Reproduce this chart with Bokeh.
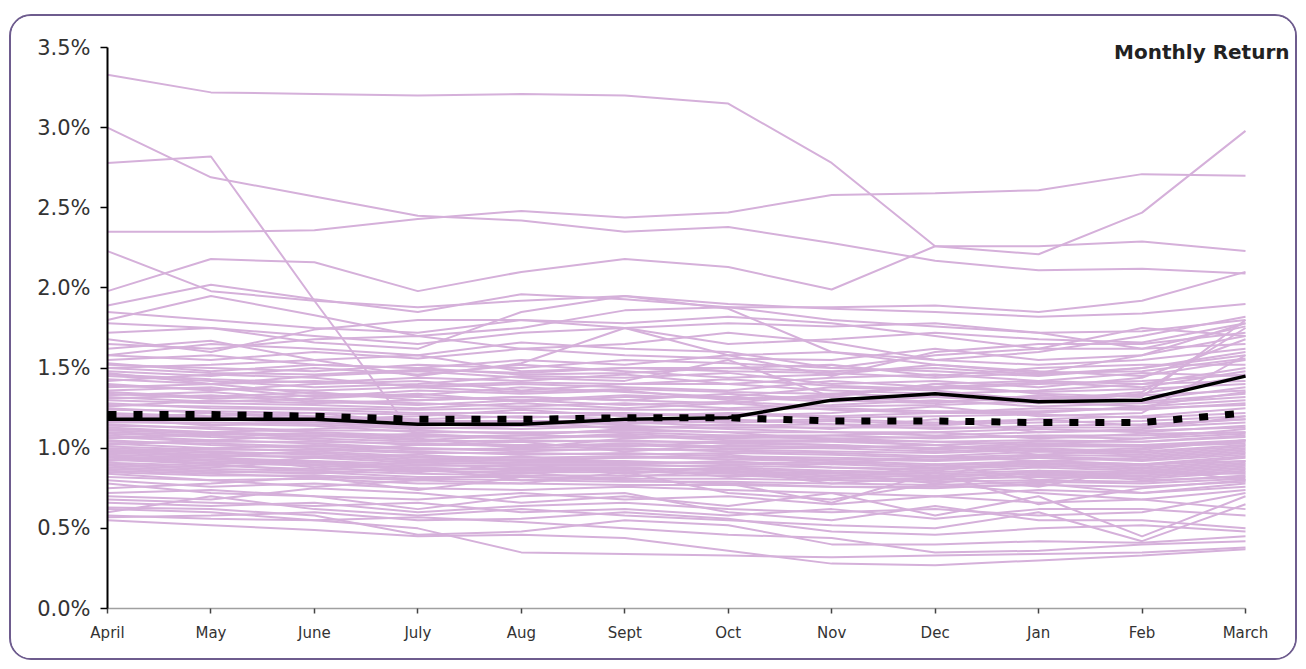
from bokeh.plotting import figure
from bokeh.models import FixedTicker, Range1d, Label, PrintfTickFormatter
from bokeh.embed import file_html
from bokeh.resources import INLINE

months = ["April", "May", "June", "July", "Aug", "Sept", "Oct", "Nov", "Dec", "Jan", "Feb", "March"]
y_ticks = [0.0, 0.5, 1.0, 1.5, 2.0, 2.5, 3.0, 3.5]

# Individual fund monthly returns (%), one list per fund
upper_funds = [
    [3.33, 3.22, 3.21, 3.20, 3.21, 3.20, 3.15, 2.78, 2.26, 2.21, 2.47, 2.98],
    [3.00, 2.69, 2.57, 2.45, 2.42, 2.35, 2.38, 2.28, 2.17, 2.11, 2.12, 2.09],
    [2.78, 2.82, 1.92, 1.05, 1.08, 1.12, 1.10, 1.05, 1.02, 0.98, 1.00, 1.05],
    [2.35, 2.35, 2.36, 2.43, 2.48, 2.44, 2.47, 2.58, 2.59, 2.61, 2.71, 2.70],
    [2.23, 1.98, 1.92, 1.88, 1.92, 1.95, 1.90, 1.87, 1.85, 1.82, 1.84, 1.90],
    [1.98, 2.18, 2.16, 1.98, 2.10, 2.18, 2.13, 1.99, 2.26, 2.26, 2.29, 2.23],
    [1.89, 2.02, 1.93, 1.85, 1.96, 1.93, 1.88, 1.80, 1.76, 1.72, 1.73, 1.80],
    [1.80, 1.95, 1.83, 1.70, 1.75, 1.86, 1.88, 1.88, 1.89, 1.85, 1.92, 2.10],
    [1.72, 1.75, 1.66, 1.62, 1.85, 1.95, 1.87, 1.60, 1.52, 1.47, 1.58, 1.78],
    [1.68, 1.60, 1.74, 1.80, 1.80, 1.75, 1.78, 1.76, 1.78, 1.72, 1.62, 1.76],
    [1.62, 1.67, 1.55, 1.45, 1.53, 1.75, 1.58, 1.45, 1.60, 1.65, 1.65, 1.72],
    [1.78, 1.75, 1.70, 1.65, 1.72, 1.75, 1.65, 1.68, 1.72, 1.68, 1.66, 1.78],
    [1.65, 1.62, 1.68, 1.70, 1.62, 1.65, 1.72, 1.66, 1.55, 1.60, 1.70, 1.82],
    [1.58, 1.65, 1.62, 1.58, 1.66, 1.62, 1.60, 1.50, 1.58, 1.62, 1.62, 1.65],
    [1.85, 1.80, 1.75, 1.72, 1.80, 1.78, 1.82, 1.78, 1.70, 1.62, 1.75, 1.70],
]
middle_funds = [
    [1.52, 1.50, 1.48, 1.52, 1.50, 1.55, 1.53, 1.50, 1.48, 1.45, 1.50, 1.60],
    [1.48, 1.45, 1.50, 1.46, 1.52, 1.48, 1.44, 1.46, 1.52, 1.48, 1.45, 1.55],
    [1.45, 1.42, 1.38, 1.40, 1.45, 1.44, 1.47, 1.40, 1.42, 1.38, 1.44, 1.68],
    [1.42, 1.46, 1.44, 1.38, 1.40, 1.38, 1.36, 1.42, 1.38, 1.41, 1.38, 1.48],
    [1.40, 1.36, 1.40, 1.42, 1.36, 1.40, 1.40, 1.36, 1.34, 1.36, 1.40, 1.42],
    [1.38, 1.40, 1.34, 1.33, 1.38, 1.35, 1.32, 1.38, 1.36, 1.30, 1.35, 1.75],
    [1.35, 1.32, 1.35, 1.30, 1.32, 1.30, 1.34, 1.30, 1.28, 1.33, 1.30, 1.38],
    [1.33, 1.35, 1.30, 1.28, 1.26, 1.28, 1.25, 1.27, 1.30, 1.26, 1.28, 1.32],
    [1.30, 1.28, 1.27, 1.25, 1.28, 1.25, 1.28, 1.24, 1.22, 1.25, 1.24, 1.28],
    [1.28, 1.25, 1.24, 1.22, 1.22, 1.22, 1.20, 1.22, 1.26, 1.20, 1.22, 1.58],
    [1.25, 1.22, 1.20, 1.18, 1.20, 1.18, 1.17, 1.18, 1.16, 1.18, 1.20, 1.25],
    [1.22, 1.20, 1.22, 1.16, 1.15, 1.16, 1.14, 1.15, 1.12, 1.14, 1.15, 1.18],
    [1.20, 1.18, 1.16, 1.13, 1.12, 1.14, 1.12, 1.10, 1.10, 1.12, 1.10, 1.14],
    [1.17, 1.15, 1.14, 1.10, 1.10, 1.10, 1.08, 1.08, 1.06, 1.08, 1.08, 1.10],
    [1.15, 1.12, 1.10, 1.08, 1.06, 1.08, 1.05, 1.05, 1.04, 1.05, 1.04, 1.08],
    [1.12, 1.10, 1.08, 1.05, 1.04, 1.05, 1.03, 1.02, 1.00, 1.03, 1.02, 1.05],
    [1.10, 1.08, 1.05, 1.02, 1.02, 1.02, 1.00, 1.00, 0.98, 1.00, 0.98, 1.02],
    [1.08, 1.05, 1.03, 1.00, 0.98, 1.00, 0.98, 0.97, 0.95, 0.98, 0.96, 1.00],
    [1.05, 1.02, 1.00, 0.98, 0.96, 0.97, 0.95, 0.94, 0.93, 0.95, 0.93, 0.97],
    [1.03, 1.00, 0.98, 0.95, 0.94, 0.95, 0.93, 0.92, 0.90, 0.92, 0.90, 0.95],
    [1.00, 0.98, 0.96, 0.93, 0.92, 0.92, 0.90, 0.90, 0.88, 0.90, 0.88, 0.92],
    [0.98, 0.96, 0.94, 0.91, 0.90, 0.90, 0.88, 0.86, 0.85, 0.88, 0.86, 0.90],
    [0.96, 0.94, 0.92, 0.90, 0.88, 0.88, 0.86, 0.84, 0.83, 0.85, 0.84, 0.88],
    [0.94, 0.92, 0.90, 0.88, 0.86, 0.86, 0.84, 0.82, 0.80, 0.83, 0.82, 0.86],
    [0.92, 0.95, 0.88, 0.85, 0.90, 0.84, 0.88, 0.80, 0.90, 0.80, 0.85, 0.84],
    [0.90, 0.88, 0.92, 0.86, 0.84, 0.88, 0.82, 0.85, 0.78, 0.86, 0.80, 0.82],
    [0.88, 0.86, 0.84, 0.88, 0.80, 0.82, 0.86, 0.78, 0.82, 0.76, 0.88, 0.80],
    [0.86, 0.84, 0.82, 0.80, 0.85, 0.80, 0.78, 0.76, 0.75, 0.78, 0.72, 0.78],
    [1.58, 1.55, 1.60, 1.56, 1.62, 1.58, 1.56, 1.55, 1.62, 1.55, 1.58, 1.70],
    [1.55, 1.58, 1.52, 1.50, 1.55, 1.52, 1.58, 1.60, 1.55, 1.52, 1.55, 1.62],
    [1.50, 1.52, 1.55, 1.58, 1.48, 1.50, 1.50, 1.52, 1.45, 1.50, 1.52, 1.52],
    [1.47, 1.40, 1.45, 1.48, 1.44, 1.42, 1.55, 1.32, 1.40, 1.42, 1.47, 1.45],
    [1.36, 1.38, 1.32, 1.36, 1.34, 1.36, 1.30, 1.33, 1.40, 1.34, 1.32, 1.80],
    [1.26, 1.30, 1.28, 1.30, 1.32, 1.30, 1.28, 1.34, 1.32, 1.28, 1.34, 1.45],
    [1.18, 1.22, 1.18, 1.20, 1.24, 1.20, 1.22, 1.20, 1.22, 1.22, 1.26, 1.35],
    [1.13, 1.10, 1.12, 1.15, 1.17, 1.12, 1.15, 1.12, 1.18, 1.10, 1.12, 1.20],
    [1.02, 1.05, 1.08, 1.06, 1.00, 1.06, 1.08, 1.06, 1.04, 1.02, 1.06, 1.12],
    [0.99, 0.95, 0.98, 1.02, 1.04, 0.98, 1.02, 1.00, 1.02, 0.96, 0.99, 1.05],
    [0.95, 0.90, 0.94, 0.96, 0.92, 0.94, 0.96, 0.90, 0.95, 0.92, 0.94, 0.98],
    [0.93, 0.90, 0.86, 0.92, 0.95, 0.90, 0.92, 0.88, 0.86, 0.92, 0.90, 0.92],
    [1.46, 1.43, 1.41, 1.44, 1.42, 1.46, 1.40, 1.44, 1.46, 1.42, 1.40, 1.50],
    [1.43, 1.40, 1.42, 1.39, 1.41, 1.40, 1.43, 1.39, 1.37, 1.40, 1.42, 1.46],
    [1.39, 1.37, 1.36, 1.38, 1.35, 1.37, 1.35, 1.34, 1.38, 1.35, 1.37, 1.40],
    [1.34, 1.31, 1.33, 1.32, 1.30, 1.33, 1.31, 1.32, 1.29, 1.31, 1.33, 1.36],
    [1.31, 1.33, 1.29, 1.27, 1.30, 1.27, 1.29, 1.26, 1.27, 1.29, 1.26, 1.30],
    [1.27, 1.26, 1.25, 1.24, 1.25, 1.24, 1.24, 1.25, 1.23, 1.23, 1.25, 1.27],
    [1.24, 1.23, 1.22, 1.21, 1.19, 1.21, 1.21, 1.19, 1.20, 1.21, 1.19, 1.22],
    [1.21, 1.19, 1.19, 1.17, 1.17, 1.17, 1.16, 1.17, 1.15, 1.16, 1.17, 1.20],
    [1.16, 1.16, 1.15, 1.12, 1.14, 1.13, 1.13, 1.13, 1.13, 1.13, 1.13, 1.16],
    [1.14, 1.13, 1.11, 1.11, 1.09, 1.11, 1.10, 1.10, 1.08, 1.10, 1.11, 1.13],
    [1.11, 1.09, 1.09, 1.07, 1.08, 1.07, 1.07, 1.06, 1.07, 1.07, 1.06, 1.09],
    [1.09, 1.07, 1.06, 1.04, 1.05, 1.04, 1.04, 1.04, 1.02, 1.04, 1.04, 1.07],
    [1.07, 1.04, 1.04, 1.03, 1.01, 1.03, 1.01, 1.01, 1.00, 1.01, 1.01, 1.04],
    [1.04, 1.03, 1.01, 1.00, 0.99, 0.99, 0.99, 0.98, 0.97, 0.99, 0.97, 1.01],
    [1.01, 0.99, 0.99, 0.97, 0.97, 0.96, 0.97, 0.96, 0.94, 0.96, 0.95, 0.99],
    [0.99, 0.97, 0.97, 0.94, 0.93, 0.94, 0.94, 0.93, 0.92, 0.94, 0.92, 0.96],
    [0.97, 0.95, 0.95, 0.92, 0.91, 0.91, 0.91, 0.91, 0.89, 0.91, 0.89, 0.94],
    [0.95, 0.93, 0.91, 0.89, 0.89, 0.89, 0.89, 0.88, 0.87, 0.89, 0.87, 0.91],
    [0.93, 0.91, 0.89, 0.87, 0.87, 0.87, 0.87, 0.85, 0.84, 0.86, 0.85, 0.89],
    [0.91, 0.89, 0.87, 0.86, 0.85, 0.85, 0.85, 0.83, 0.82, 0.84, 0.83, 0.87],
    [0.89, 0.87, 0.86, 0.84, 0.83, 0.83, 0.83, 0.81, 0.81, 0.82, 0.81, 0.85],
    [0.87, 0.85, 0.85, 0.82, 0.82, 0.81, 0.81, 0.80, 0.79, 0.80, 0.79, 0.83],
    [0.85, 0.83, 0.83, 0.81, 0.80, 0.79, 0.79, 0.78, 0.77, 0.79, 0.78, 0.81],
    [0.84, 0.80, 0.81, 0.78, 0.78, 0.77, 0.77, 0.76, 0.76, 0.77, 0.76, 0.79],
    [1.50, 1.47, 1.46, 1.49, 1.47, 1.50, 1.48, 1.47, 1.44, 1.47, 1.48, 1.56],
    [1.53, 1.48, 1.52, 1.50, 1.46, 1.47, 1.50, 1.48, 1.50, 1.46, 1.50, 1.58],
    [1.19, 1.14, 1.17, 1.14, 1.16, 1.15, 1.18, 1.15, 1.14, 1.18, 1.14, 1.18],
    [1.06, 1.09, 1.07, 1.09, 1.06, 1.09, 1.06, 1.08, 1.10, 1.06, 1.09, 1.10],
    [0.97, 1.00, 1.02, 0.99, 1.00, 1.01, 1.04, 1.02, 0.99, 1.02, 1.01, 1.03],
    [1.32, 1.29, 1.31, 1.34, 1.29, 1.32, 1.32, 1.29, 1.32, 1.32, 1.29, 1.34],
]
lower_funds = [
    [0.62, 0.60, 0.55, 0.50, 0.35, 0.34, 0.33, 0.32, 0.33, 0.34, 0.35, 0.38],
    [0.55, 0.52, 0.49, 0.45, 0.46, 0.44, 0.36, 0.28, 0.27, 0.30, 0.33, 0.37],
    [0.58, 0.56, 0.55, 0.57, 0.54, 0.50, 0.46, 0.44, 0.35, 0.36, 0.40, 0.42],
    [0.63, 0.62, 0.58, 0.46, 0.48, 0.55, 0.52, 0.40, 0.40, 0.42, 0.41, 0.45],
    [0.60, 0.70, 0.62, 0.58, 0.62, 0.58, 0.55, 0.52, 0.50, 0.60, 0.42, 0.65],
    [0.78, 0.72, 0.70, 0.62, 0.70, 0.72, 0.60, 0.55, 0.64, 0.55, 0.55, 0.50],
    [0.70, 0.68, 0.75, 0.72, 0.66, 0.70, 0.64, 0.72, 0.58, 0.70, 0.45, 0.70],
    [0.82, 0.80, 0.76, 0.80, 0.78, 0.85, 0.72, 0.68, 0.78, 0.72, 0.68, 0.62],
    [0.75, 0.78, 0.82, 0.74, 0.82, 0.80, 0.78, 0.66, 0.85, 0.65, 0.75, 0.80],
    [0.66, 0.64, 0.66, 0.60, 0.64, 0.66, 0.62, 0.60, 0.62, 0.58, 0.60, 0.72],
    [0.72, 0.74, 0.70, 0.68, 0.72, 0.68, 0.70, 0.65, 0.70, 0.66, 0.68, 0.74],
    [0.80, 0.76, 0.78, 0.75, 0.74, 0.76, 0.74, 0.72, 0.70, 0.74, 0.72, 0.76],
    [0.68, 0.66, 0.64, 0.66, 0.60, 0.62, 0.58, 0.62, 0.56, 0.62, 0.62, 0.58],
    [0.57, 0.58, 0.60, 0.55, 0.56, 0.60, 0.56, 0.48, 0.46, 0.50, 0.52, 0.48],
]
average_return = [1.18, 1.18, 1.18, 1.15, 1.15, 1.18, 1.19, 1.30, 1.34, 1.29, 1.30, 1.45]
benchmark_return = [1.21, 1.21, 1.20, 1.18, 1.18, 1.19, 1.19, 1.17, 1.17, 1.16, 1.16, 1.22]

FONT = "DejaVu Sans"
xs = list(range(len(months)))
n = len(months) - 1

p = figure(width=1288, height=646, output_backend="svg", toolbar_location=None,
           x_range=Range1d(0, n * 1185 / 1138), y_range=Range1d(0, 3.5 * 588 / 561),
           min_border_left=96, min_border_right=7, min_border_top=4, min_border_bottom=54)
p.margin = (14, 0, 0, 9)
p.styles = {"border": "2px solid #6e5c8e", "border-radius": "22px", "overflow": "hidden"}
p.background_fill_color = "white"
p.border_fill_color = "white"
p.outline_line_color = None
p.xgrid.visible = False
p.ygrid.visible = False

for series in upper_funds + middle_funds + lower_funds:
    p.line(xs, series, line_color="#d5b0da", line_width=2)

p.line(xs, benchmark_return, line_color="black", line_width=7, line_dash="9 17")
p.line(xs, average_return, line_color="black", line_width=3.5)

xa = p.xaxis[0]
xa.bounds = (0, n)
xa.ticker = FixedTicker(ticks=xs)
xa.major_label_overrides = {i: m for i, m in enumerate(months)}
xa.axis_line_color = "#a0a0a0"
xa.axis_line_width = 1.5
xa.major_tick_in = 0
xa.major_tick_out = 5
xa.major_tick_line_color = "#444444"
xa.major_tick_line_width = 1.5
xa.minor_tick_line_color = None
xa.major_label_text_font = FONT
xa.major_label_text_font_size = "15px"
xa.major_label_text_color = "#333333"
xa.major_label_standoff = 10

ya = p.yaxis[0]
ya.bounds = (0, 3.5)
ya.ticker = FixedTicker(ticks=y_ticks)
ya.formatter = PrintfTickFormatter(format="%.1f%%")
ya.axis_line_color = "black"
ya.axis_line_width = 2
ya.major_tick_in = 0
ya.major_tick_out = 7
ya.major_tick_line_color = "black"
ya.major_tick_line_width = 1.5
ya.minor_tick_line_color = None
ya.major_label_text_font = FONT
ya.major_label_text_font_size = "21px"
ya.major_label_text_color = "#333333"
ya.major_label_standoff = 10

title = Label(x=n, y=3.5, x_offset=44, y_offset=-4, text="Monthly Return",
              text_align="right", text_baseline="middle", text_font=FONT,
              text_font_style="bold", text_font_size="20px", text_color="#222222")
p.add_layout(title)

open("out.html", "w").write(file_html(p, INLINE))
